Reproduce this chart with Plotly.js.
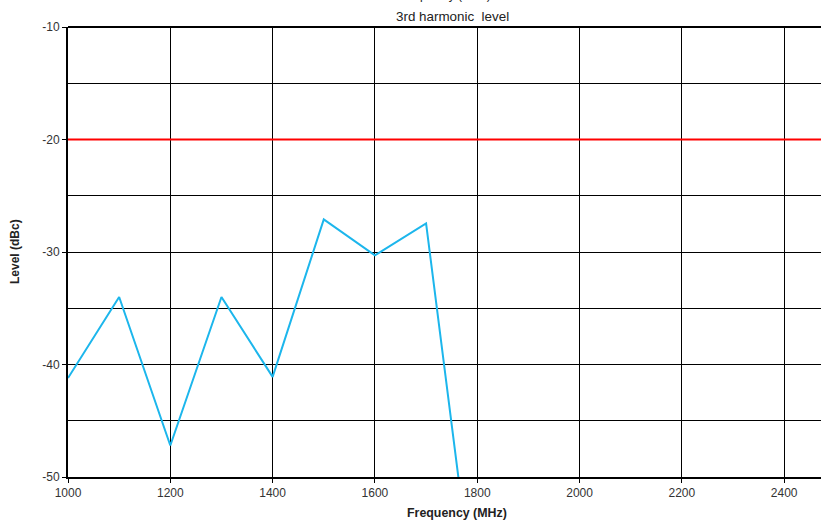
<!DOCTYPE html>
<html>
<head>
<meta charset="utf-8">
<script src="https://cdn.plot.ly/plotly-3.0.1.min.js"></script>
<style>html,body{margin:0;padding:0;background:#fff;overflow:hidden}</style>
</head>
<body>
<div id="chart" style="width:821px;height:521px"></div>
<script>
const frequency = [1000, 1100, 1200, 1300, 1400, 1500, 1600, 1700, 1800];
const level = [-41.2, -34.0, -47.2, -34.0, -41.1, -27.1, -30.3, -27.45, -63.2];
const limitX = [1000, 2500];
const limitY = [-20, -20];
const xTicks = [1000, 1200, 1400, 1600, 1800, 2000, 2200, 2400];
const yTicks = [-10, -20, -30, -40, -50];

const traces = [
  {x: limitX, y: limitY, mode: 'lines', line: {color: '#ff0000', width: 2}, hoverinfo: 'skip'},
  {x: frequency, y: level, mode: 'lines', line: {color: '#1cb6ec', width: 2}}
];

const font = {family: 'Liberation Sans, Arial, sans-serif', size: 12, color: '#333'};

const layout = {
  width: 821, height: 521,
  margin: {l: 68, r: 0, t: 27, b: 44},
  paper_bgcolor: '#fff', plot_bgcolor: '#fff',
  showlegend: false,
  font: font,
  xaxis: {
    range: [1000, 2472], tickvals: xTicks, ticktext: xTicks.map(String),
    showgrid: true, gridcolor: '#000', gridwidth: 1,
    showline: true, linecolor: '#000', linewidth: 2, mirror: false,
    ticks: 'outside', ticklen: 4, tickcolor: '#000', zeroline: false,
    tickfont: font
  },
  yaxis: {
    range: [-50, -10], tickvals: yTicks, ticktext: yTicks.map(String),
    showgrid: true, gridcolor: '#000', gridwidth: 1,
    minor: {dtick: 5, tick0: -50, showgrid: true, gridcolor: '#000', gridwidth: 1},
    showline: true, linecolor: '#000', linewidth: 2,
    ticks: 'outside', ticklen: 4, tickcolor: '#000', zeroline: false,
    tickfont: font
  },
  shapes: [
    {type: 'line', xref: 'paper', yref: 'paper', x0: 0, x1: 1, y0: 1, y1: 1, line: {color: '#000', width: 2}}
  ],
  annotations: [
    {text: '3rd harmonic  level', xref: 'paper', yref: 'paper', x: 0.5106, y: 1, yshift: 11, showarrow: false,
     yanchor: 'middle', font: {family: 'Liberation Sans, Arial, sans-serif', size: 13.4, color: '#222'}},
    {text: 'Frequency (MHz)', xref: 'paper', yref: 'paper', x: 0.5, y: 1, yshift: 32, showarrow: false,
     yanchor: 'middle', font: {family: 'Liberation Sans, Arial, sans-serif', size: 12, color: '#222'}},
    {text: '<b>Frequency (MHz)</b>', xref: 'paper', yref: 'paper', x: 0.5166, y: 0, yshift: -36, showarrow: false,
     yanchor: 'middle', font: {family: 'Liberation Sans, Arial, sans-serif', size: 12.4, color: '#222'}},
    {text: '<b>Level (dBc)</b>', xref: 'paper', yref: 'paper', x: 0, xshift: -53, y: 0.5, showarrow: false,
     textangle: -90, xanchor: 'center', yanchor: 'middle', font: {family: 'Liberation Sans, Arial, sans-serif', size: 12, color: '#222'}}
  ]
};

Plotly.newPlot('chart', traces, layout, {staticPlot: true, displayModeBar: false});
</script>
</body>
</html>
